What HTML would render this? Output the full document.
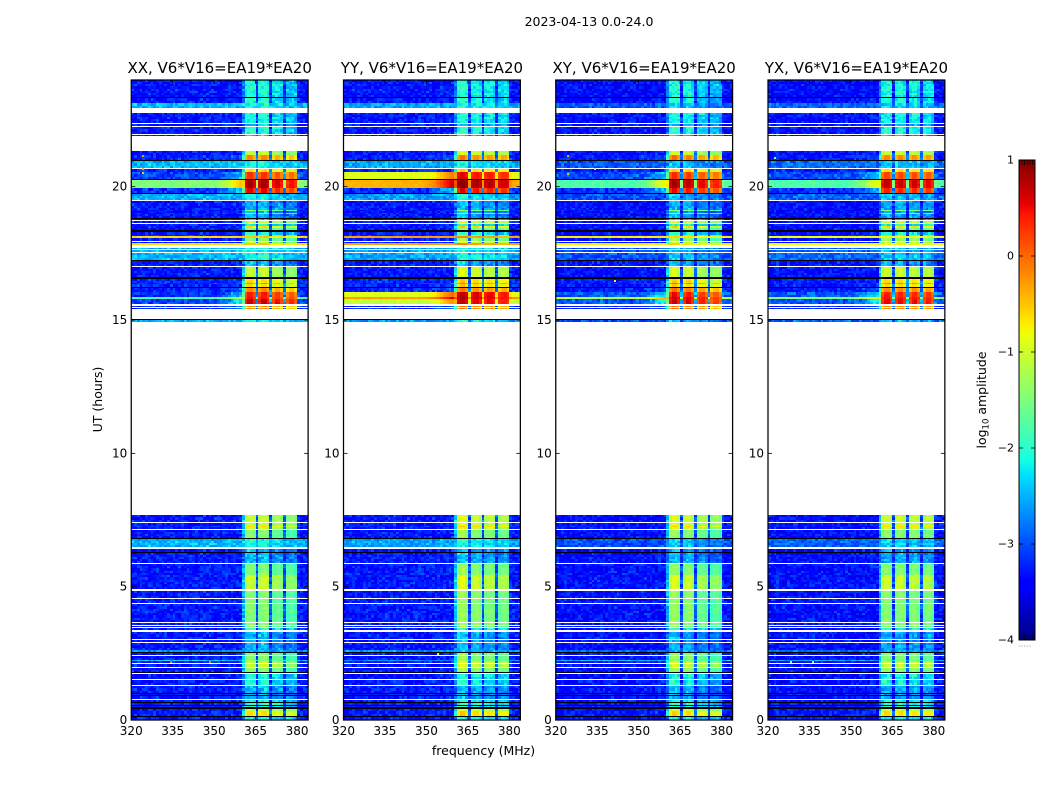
<!DOCTYPE html>
<html>
<head>
<meta charset="utf-8">
<title>2023-04-13 0.0-24.0</title>
<style>
html,body{margin:0;padding:0;background:#fff;width:1050px;height:800px;overflow:hidden}
svg{display:block}
text{font-family:"DejaVu Sans","Liberation Sans",sans-serif;fill:#000}
</style>
</head>
<body>
<svg id="figure" xmlns="http://www.w3.org/2000/svg" width="1050" height="800" viewBox="0 0 1050 800">
<rect x="0" y="0" width="1050" height="800" fill="#fff"/>
<text x="589" y="26" font-size="12.5" text-anchor="middle">2023-04-13 0.0-24.0</text>
<text transform="translate(102,399.5) rotate(-90)" font-size="12.5" text-anchor="middle">UT (hours)</text>
<text x="483.5" y="755" font-size="12.5" text-anchor="middle">frequency (MHz)</text>
<text transform="translate(986,400) rotate(-90)" font-size="12.5" text-anchor="middle">log<tspan font-size="8.5" dy="2.5">10</tspan><tspan dy="-2.5"> amplitude</tspan></text>
</svg>
<script>
// ---------- chart data ----------
const panelTitles = ['XX, V6*V16=EA19*EA20', 'YY, V6*V16=EA19*EA20', 'XY, V6*V16=EA19*EA20', 'YX, V6*V16=EA19*EA20'];
const xTickValues = [320, 335, 350, 365, 380];
const yTickValues = [0, 5, 10, 15, 20];
const colorbarTicks = [1, 0, -1, -2, -3, -4];

// Start of each time block (UT hours, descending); each block runs to the next entry.
const rowStartUT = [
24.00,23.36,23.33,23.14,22.95,22.76,22.39,22.35,22.28,22.24,21.98,21.94,21.90,21.34,21.19,21.00,20.96,20.70,20.66,20.55,
20.29,20.25,19.95,19.76,19.73,19.50,19.46,19.13,19.09,19.01,18.98,18.83,18.79,18.75,18.71,18.64,18.60,18.53,18.45,18.38,
18.30,18.19,18.15,18.08,17.96,17.93,17.89,17.81,17.70,17.66,17.63,17.55,17.51,17.25,17.21,17.03,16.99,16.61,16.54,16.39,
16.35,16.24,16.20,16.05,15.86,15.79,15.60,15.53,15.49,15.45,15.41,15.04,15.00,14.93,
7.69,7.43,7.39,7.28,7.24,7.16,7.13,6.83,6.79,6.49,6.41,6.30,6.26,5.89,5.85,5.44,4.91,4.84,4.58,4.54,4.39,4.35,
3.68,3.64,3.56,3.53,3.49,3.45,3.38,3.30,3.04,3.00,2.93,2.89,2.63,2.55,2.51,2.44,2.40,2.25,2.21,2.14,2.10,1.99,1.95,
1.80,1.76,1.73,1.54,1.50,1.31,1.28,1.01,0.98,0.94,0.90,0.79,0.75,0.68,0.64,0.56,0.53,0.49,0.41,0.34,0.15,0.11
];
const rowEndUT = 0;
// Kind of each time block (index into the level tables below). 0 = flagged (blank), 1 = black line.
const rowKind = [
3,1,3,9,0,3,0,2,0,3,0,2,0,5,7,1,9,0,6,16,
1,10,17,1,9,0,2,4,2,4,2,1,2,0,5,0,3,6,4,1,
3,4,12,4,0,5,12,0,9,0,9,0,9,1,2,0,5,1,6,7,
6,1,7,8,15,11,0,7,0,7,0,1,9,0,
5,0,5,6,5,0,4,1,9,0,2,1,2,0,4,5,0,4,0,4,0,4,
0,4,0,4,0,3,0,2,0,2,0,2,13,1,4,0,4,14,5,0,5,0,4,
1,0,3,0,3,0,2,1,2,1,2,0,3,1,3,1,3,1,5,6,1,3
];

// log10 amplitude by row kind: outside the receiver band, and inside it.
const xxOff = [null,-9,-3.3,-3.3,-3.3,-3.3,-3.25,-3.25,-3.2,-2.5,-1.5,-3.1,-0.6,-2.7,-2.4,-1.9,-3.1,-3.2];
const xxOn  = [null,-9,-2.55,-2.15,-1.5,-1.1,-0.7,-0.25,0.35,-2.2,0.72,0.6,-0.6,-2.5,-1.5,0.35,0.2,0.45];
const yyOff = [null,-9,-3.3,-3.3,-3.3,-3.3,-3.25,-3.25,-0.9,-2.6,-0.4,-1.1,-0.3,-2.7,-2.7,-0.3,-0.9,-3.2];
const yyOn  = [null,-9,-2.55,-2.15,-1.4,-1.0,-0.6,-0.2,0.6,-2.2,0.8,0.55,-0.3,-2.5,-1.4,0.6,0.45,0.45];
const xyOff = [null,-9,-3.35,-3.35,-3.35,-3.35,-3.3,-3.3,-3.0,-3.0,-1.8,-3.0,-0.7,-2.9,-2.5,-1.2,-3.05,-3.2];
const xyOn  = [null,-9,-2.6,-2.2,-1.45,-1.05,-0.65,-0.15,0.4,-2.5,0.7,0.55,-0.7,-2.6,-1.6,0.5,0.2,0.4];
const yxOff = [null,-9,-3.35,-3.35,-3.35,-3.35,-3.3,-3.3,-3.0,-2.9,-1.8,-3.0,-0.8,-2.9,-2.6,-1.5,-3.05,-3.2];
const yxOn  = [null,-9,-2.6,-2.15,-1.45,-1.05,-0.65,-0.2,0.35,-2.4,0.65,0.5,-0.8,-2.6,-1.6,0.4,0.15,0.35];
const panelOff = [xxOff, yyOff, xyOff, yxOff];
const panelOn  = [xxOn, yyOn, xyOn, yxOn];

// Per sub-band level offset for each panel.
const xxTrim = [0.1, 0.1, -0.1, -0.25];
const yyTrim = [0.15, 0.0, -0.05, -0.15];
const xyTrim = [0.15, 0.05, -0.15, -0.3];
const yxTrim = [0.05, 0.05, 0.0, -0.08];
const panelTrim = [xxTrim, yyTrim, xyTrim, yxTrim];

// Spectral response of each 1 MHz channel from 320 to 384 MHz.
const channelGain = [
0,0,0,0,0,0,0,0,0,0, 0,0,0,0,0,0,0,0,0,0,
0,0,0,0,0,0,0,0,0,0, 0,0,0,0,0,0,0,0,0,0,
0.4,0.92,1,1,0.92,0.14,0.92,1,1,0.92,
0.14,0.92,1,1,0.92,0.14,0.92,1,1,0.92,
0.04,0,0,0
];
const channelSubband = [
-1,-1,-1,-1,-1,-1,-1,-1,-1,-1,-1,-1,-1,-1,-1,-1,-1,-1,-1,-1,
-1,-1,-1,-1,-1,-1,-1,-1,-1,-1,-1,-1,-1,-1,-1,-1,-1,-1,-1,-1,
0,0,0,0,0,-1,1,1,1,1,-1,2,2,2,2,-1,3,3,3,3,-1,-1,-1,-1
];
const shoulderGain = [
0,0,0,0,0,0,0,0,0,0, 0,0,0,0,0,0,0,0,0,0,
0,0,0,0,0,0,0,0,0.03,0.05, 0.08,0.1,0.14,0.2,0.3,0.4,0.5,0.6,0.7,0.75,
0,0,0,0,0,0,0,0,0,0, 0,0,0,0,0,0,0,0,0,0, 0.1,0.05,0,0
];
// Receiver noise offsets.
const noiseOffsets = [
-0.22,0.31,-0.08,0.12,-0.34,0.45,0.02,-0.18,0.27,-0.11,0.09,-0.29,0.36,-0.05,0.18,-0.24,0.58,-0.13,0.05,0.22,
-0.31,0.14,-0.02,0.39,-0.19,0.07,-0.36,0.25,0.01,-0.15,0.33,-0.27,0.11,-0.07,0.49,-0.21,0.16,-0.33,0.03,0.28,
-0.12,0.2,-0.25,0.08,0.41,-0.17,-0.04,0.24,-0.3,0.13,0.34,-0.09,0.06
];
// Isolated bright cells: panel, UT, frequency, log10 amplitude.
const hotCellPanel = [0,0,0,0,0,1,1,2,2,2,2,3,3,3];
const hotCellUT = [21.2,20.7,20.55,2.22,2.22,16.0,2.5,21.2,20.5,20.7,16.5,2.22,2.22,21.1];
const hotCellFreq = [324,324,324,334,348,331,354,324,324,334,341,328,336,322];
const hotCellValue = [-0.2,-0.4,-0.5,-0.1,-0.1,-1.0,-1.0,-0.3,-0.4,-1.2,-1.0,-1.2,-1.3,-1.4];

// ---------- axis functions ----------
const svg = document.getElementById('figure');
const NS = 'http://www.w3.org/2000/svg';
const panelLefts = [131.25, 343.5, 555.75, 768];
const panelWidth = 176.85;
const plotTop = 80, plotBottom = 720;
const freqMin = 320, freqMax = 384;
const colorMin = -4, colorMax = 1;
const cbarLeft = 1019, cbarWidth = 16, cbarTop = 160, cbarBottom = 640;

function xScale(panel, f) { return panelLefts[panel] + (f - freqMin) / (freqMax - freqMin) * panelWidth; }
function yScale(t) { return plotBottom - t / 24 * (plotBottom - plotTop); }
function cbarScale(v) { return cbarBottom - (v - colorMin) / (colorMax - colorMin) * (cbarBottom - cbarTop); }

function ramp(stops, x) {
  for (let i = 1; i < stops.length; i++) {
    if (x <= stops[i][0]) {
      const a = stops[i - 1], b = stops[i];
      return a[1] + (b[1] - a[1]) * (x - a[0]) / (b[0] - a[0]);
    }
  }
  return stops[stops.length - 1][1];
}
const jetR = [[0, 0], [0.35, 0], [0.66, 1], [0.89, 1], [1, 0.5]];
const jetG = [[0, 0], [0.125, 0], [0.375, 1], [0.64, 1], [0.91, 0], [1, 0]];
const jetB = [[0, 0.5], [0.11, 1], [0.34, 1], [0.65, 0], [1, 0]];
function colorOf(v) {
  if (v <= -8) return '#000';
  const x = Math.max(0, Math.min(1, (v - colorMin) / (colorMax - colorMin)));
  return 'rgb(' + Math.round(ramp(jetR, x) * 255) + ',' + Math.round(ramp(jetG, x) * 255) + ',' + Math.round(ramp(jetB, x) * 255) + ')';
}
function make(tag, parent, attrs) {
  const el = document.createElementNS(NS, tag);
  for (const k in attrs) el.setAttribute(k, attrs[k]);
  parent.appendChild(el);
  return el;
}

// ---------- panels ----------
panelTitles.forEach(function (title, p) {
  const group = make('g', svg, {});
  
  

  const cells = make('g', group, { 'shape-rendering': 'crispEdges' });
  
  

  const off = panelOff[p], on = panelOn[p], trim = panelTrim[p];
  let rowCounter = 0;
  rowStartUT.forEach(function (startUT, i) {
    const kind = rowKind[i];
    const endUT = i + 1 < rowStartUT.length ? rowStartUT[i + 1] : rowEndUT;
    const low = off[kind], high = on[kind];
    if (low === null) return;
    const yA = Math.round(yScale(startUT)), yB = Math.round(yScale(endUT));
    const slices = low <= -8 ? 1 : Math.max(1, Math.round((yB - yA) / 2.2));
    for (let s = 0; s < slices; s++) {
      const y0 = yA + Math.round((yB - yA) * s / slices);
      const y1 = yA + Math.round((yB - yA) * (s + 1) / slices);
      rowCounter++;
      for (let c = 0; c < channelGain.length; c++) {
        const x0 = Math.round(xScale(p, freqMin + c));
        const x1 = Math.round(xScale(p, freqMin + c + 1));
        let v = low;
        if (low > -8) {
          const sub = channelSubband[c];
          const top = high + (sub >= 0 ? trim[sub] : 0);
          const strength = Math.max(0, high + 0.6);
          v = low + (top - low) * channelGain[c] + shoulderGain[c] * strength;
          if (channelGain[c] < 0.5) v = Math.min(v, Math.max(top, low));
          const lookup = (c * c * 3 + rowCounter * rowCounter * 7 + c * rowCounter + p * 11) % noiseOffsets.length;
          const amp = v < -2 ? 0.65 : (v < -1 ? 0.35 : 0.12);
          v += noiseOffsets[lookup] * amp;
        }
        const cell = make('rect', cells, { x: x0, y: y0, width: x1 - x0, height: y1 - y0, fill: colorOf(v) });
        
        
      }
    }
  });

  hotCellPanel.forEach(function (hp, h) {
    if (hp !== p) return;
    const hot = make('rect', cells, {
      x: Math.round(xScale(p, hotCellFreq[h])), y: Math.round(yScale(hotCellUT[h])),
      width: 2, height: 2, fill: colorOf(hotCellValue[h])
    });
    
    
  });

  const left = panelLefts[p], right = left + panelWidth;

  yTickValues.forEach(function (t) {
    const y = yScale(t);
    const tickL = make('line', group, { x1: left, x2: left + 4, y1: y, y2: y, stroke: '#000', 'stroke-width': 0.8 });
    
    
    const tickR = make('line', group, { x1: right - 4, x2: right, y1: y, y2: y, stroke: '#000', 'stroke-width': 0.8 });
    
    
    const label = make('text', group, { x: left - 4, y: y + 4, 'font-size': 12, 'text-anchor': 'end' });
    label.textContent = String(t);
    
    
  });

  xTickValues.forEach(function (f) {
    const x = xScale(p, f);
    const tickB = make('line', group, { x1: x, x2: x, y1: plotBottom - 4, y2: plotBottom, stroke: '#000', 'stroke-width': 0.8 });
    
    
    const tickT = make('line', group, { x1: x, x2: x, y1: plotTop, y2: plotTop + 4, stroke: '#000', 'stroke-width': 0.8 });
    
    
    const label = make('text', group, { x: x, y: 735, 'font-size': 12, 'text-anchor': 'middle' });
    label.textContent = String(f);
    
    
  });

  const frame = make('rect', group, { x: left, y: plotTop, width: panelWidth, height: plotBottom - plotTop, fill: 'none', stroke: '#000', 'stroke-width': 1.25 });
  
  

  const heading = make('text', group, { x: left + panelWidth / 2, y: 73, 'font-size': 15, 'text-anchor': 'middle' });
  heading.textContent = title;
  
  
});

// ---------- colorbar ----------
const cbar = make('g', svg, {});


const cbarSteps = 240;
for (let i = 0; i < cbarSteps; i++) {
  const v0 = colorMin + (colorMax - colorMin) * (i + 1) / cbarSteps;
  const v1 = colorMin + (colorMax - colorMin) * i / cbarSteps;
  const seg = make('rect', cbar, {
    x: cbarLeft, y: cbarScale(v0), width: cbarWidth, height: cbarScale(v1) - cbarScale(v0) + 0.5,
    fill: colorOf((v0 + v1) / 2), 'shape-rendering': 'crispEdges'
  });
  
  
}
colorbarTicks.forEach(function (v) {
  const y = cbarScale(v);
  const a = make('line', cbar, { x1: cbarLeft, x2: cbarLeft + 4, y1: y, y2: y, stroke: '#000', 'stroke-width': 0.8 });
  
  
  const b = make('line', cbar, { x1: cbarLeft + cbarWidth - 4, x2: cbarLeft + cbarWidth, y1: y, y2: y, stroke: '#000', 'stroke-width': 0.8 });
  
  
  const label = make('text', cbar, { x: 1014, y: y + 3.5, 'font-size': 11, 'text-anchor': 'end' });
  label.textContent = String(v).replace('-', '\u2212');
  
  
});
[3, 5.6, 8.2, 10.8, 13.4].forEach(function (dx) {
  const topMinor = make('line', cbar, { x1: cbarLeft + dx, x2: cbarLeft + dx, y1: cbarTop, y2: cbarTop + 5, stroke: '#000', 'stroke-width': 0.7 });
  
  
  const botMinor = make('line', cbar, { x1: cbarLeft + dx, x2: cbarLeft + dx, y1: cbarBottom - 5, y2: cbarBottom, stroke: '#000', 'stroke-width': 0.7 });
  
  
  const dot = make('rect', cbar, { x: cbarLeft + dx - 3, y: 645.5, width: 1, height: 1, fill: '#999' });
  
  
});
const cbarFrame = make('rect', cbar, { x: cbarLeft, y: cbarTop, width: cbarWidth, height: cbarBottom - cbarTop, fill: 'none', stroke: '#000', 'stroke-width': 1 });


</script>
</body>
</html>
